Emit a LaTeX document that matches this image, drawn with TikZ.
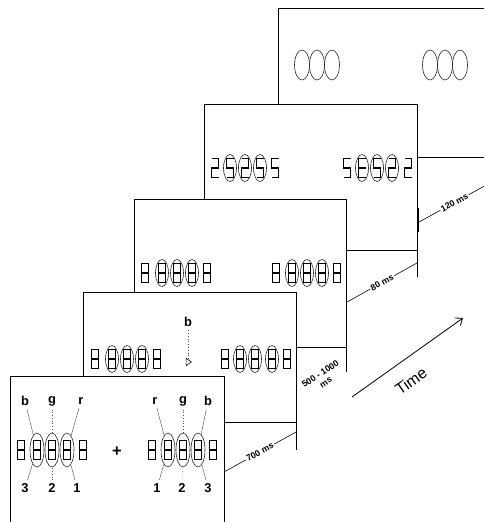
\documentclass[tikz,border=0pt]{standalone}
\usepackage{fontspec}
\setmainfont{Liberation Sans}
\usetikzlibrary{arrows.meta,shapes.geometric}

\begin{document}
\begin{tikzpicture}[
  x=0.3mm, y=-0.3mm,
  font=\fontsize{8}{9}\selectfont,
  frame/.style={draw, fill=white, line width=0.6pt},
  seg/.style={line width=1.1pt},
  ring/.style={draw=black!85, ellipse, inner sep=0pt, line width=0.5pt, minimum width=3.9mm, minimum height=8.1mm},
  bigring/.style={ring, minimum width=4.2mm, minimum height=10.2mm},
  emptyring/.style={ring, minimum width=4.5mm, minimum height=9mm},
  lbl/.style={font=\fontsize{11}{13}\selectfont\bfseries, inner sep=1pt},
  lead/.style={draw=black!70, line width=0.35pt, shorten <=2pt},
  dur/.style={font=\fontsize{7.5}{9}\selectfont\bfseries, sloped, fill=white, inner sep=1pt},
  durtext/.style={font=\fontsize{7.5}{8.5}\selectfont\bfseries, align=center, inner sep=0pt},
  tickmark/.style={line width=1.4pt},
  cue/.style={draw, isosceles triangle, isosceles triangle apex angle=70, inner sep=0pt, minimum height=1.6mm, line width=0.5pt},
  eight/.pic={\draw[seg] (-3.5,-9.5) rectangle (3.5,9.5); \draw[seg] (-3.5,0) -- (3.5,0);},
  two/.pic={\draw[seg] (-3.5,-9.5) -- (3.5,-9.5) -- (3.5,0) -- (-3.5,0) -- (-3.5,9.5) -- (3.5,9.5);},
  five/.pic={\draw[seg] (3.5,-9.5) -- (-3.5,-9.5) -- (-3.5,0) -- (3.5,0) -- (3.5,9.5) -- (-3.5,9.5);},
  letE/.pic={\draw[seg] (3.5,-9.5) -- (-3.5,-9.5) -- (-3.5,9.5) -- (3.5,9.5); \draw[seg] (-3.5,0) -- (3.5,0);},
]
\clip (0,0) rectangle (484,522);

% frame 5: rings only
\draw[frame] (278,8) rectangle (491,157);
\foreach \x [count=\i] in {302,317,332,430,445,460}
  \node[emptyring] (e5-\i) at (\x,65) {};

% frame 4: masked digits
\draw[frame] (204,104) rectangle (417,250);
\foreach \x/\d in {215/two,230/five,245/two,260/five,275/five,347/five,362/letE,377/five,392/two,408/two}
  \pic at (\x,168) {\d};
\foreach \x [count=\i] in {230,245,260,362,377,392}
  \node[ring] (e4-\i) at (\x,168) {};

% frame 3
\draw[frame] (134,199) rectangle (346,347);
\foreach \x in {145,162,177,192,207,276,292,307,322,337}
  \pic at (\x,273) {eight};
\foreach \x [count=\i] in {162,177,192,292,307,322}
  \node[ring] (e3-\i) at (\x,273) {};

% frame 2: cue
\draw[frame] (83,292) rectangle (296,422);
\foreach \x in {95,112,127,142,157,225,240,255,272,287}
  \pic at (\x,359) {eight};
\foreach \x [count=\i] in {112,127,142,240,255,272}
  \node[ring] (e2-\i) at (\x,359) {};
\node[lbl] (cb) at (188,322) {b};
\node[cue] (cue) at (188,362) {};
\draw[lead, dotted] (cb) -- (cue);

% frame 1: colour / order labels
\draw[frame] (10,376) rectangle (224,530);
\foreach \x in {21,37,52,67,83,152,168,183,198,213}
  \pic at (\x,450) {eight};
\foreach \x [count=\i] in {37,52,67,168,183,198}
  \node[bigring] (e1-\i) at (\x,450) {};
\node[lbl, font=\fontsize{14}{16}\selectfont\bfseries] (plus) at (117,452) {+};
\node[lbl] (tb1) at (25,401) {b};
\node[lbl] (tg1) at (52,401) {g};
\node[lbl] (tr1) at (81,401) {r};
\node[lbl] (n3l) at (25,488) {3};
\node[lbl] (n2l) at (52,488) {2};
\node[lbl] (n1l) at (77,488) {1};
\node[lbl] (tr2) at (155,401) {r};
\node[lbl] (tg2) at (183,401) {g};
\node[lbl] (tb2) at (208,401) {b};
\node[lbl] (n1r) at (157,488) {1};
\node[lbl] (n2r) at (182,488) {2};
\node[lbl] (n3r) at (208,488) {3};
\draw[lead] (tb1) -- (e1-1);
\draw[lead, dotted] (tg1) -- (e1-2);
\draw[lead] (tr1) -- (e1-3);
\draw[lead] (n3l) -- (e1-1);
\draw[lead, dotted] (n2l) -- (e1-2);
\draw[lead] (n1l) -- (e1-3);
\draw[lead] (tr2) -- (e1-4);
\draw[lead, dotted] (tg2) -- (e1-5);
\draw[lead] (tb2) -- (e1-6);
\draw[lead] (n1r) -- (e1-4);
\draw[lead, dotted] (n2r) -- (e1-5);
\draw[lead] (n3r) -- (e1-6);

% time line
\draw[line width=0.6pt] (296,422) -- (296,450);
\draw[line width=0.6pt] (346,347) -- (346,372);
\draw[line width=0.6pt] (417,250) -- (417,277);
\draw[tickmark] (296.5,378) -- (296.5,402);
\draw[tickmark] (346.5,288) -- (346.5,312);
\draw[tickmark] (418,208) -- (418,232);
\coordinate (d1a) at (224,472);
\coordinate (d1b) at (296,432);
\coordinate (d3a) at (347,302);
\coordinate (d3b) at (417,263);
\coordinate (d4a) at (419,222);
\coordinate (d4b) at (490,183);
\draw[line width=0.5pt] (d1a) -- node[dur] (t700) {700 ms} (d1b);
\node[durtext, rotate=33] (t500) at (323,378) {500 - 1000\\ms};
\draw[line width=0.5pt] (d3a) -- node[dur] (t80) {80 ms} (d3b);
\draw[line width=0.5pt] (d4a) -- node[dur] (t120) {120 ms} (d4b);

\coordinate (ts) at (352,397);
\coordinate (te) at (463,318);
\draw[-{Straight Barb[length=5pt,width=8pt]}, line width=0.7pt] (ts) -- (te);
\node[rotate=35, font=\fontsize{13.5}{15}\selectfont] (time) at (411,381) {Time};
\end{tikzpicture}
\end{document}
